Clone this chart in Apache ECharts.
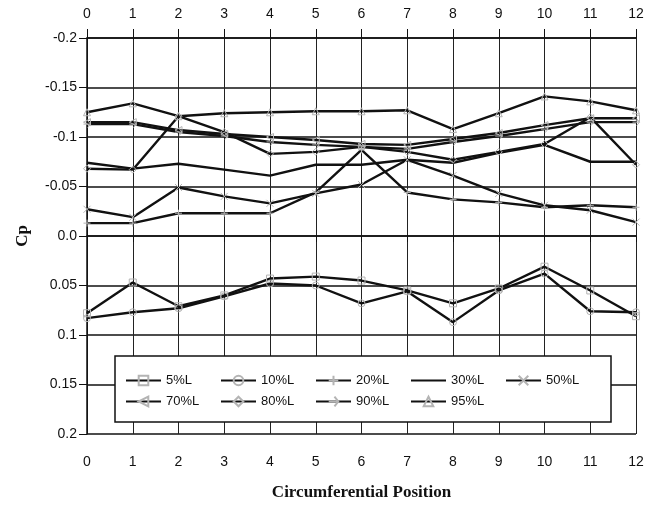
<!DOCTYPE html>
<html>
<head>
<meta charset="utf-8">
<script src="https://cdn.jsdelivr.net/npm/echarts@6/dist/echarts.min.js"></script>
<style>
  html, body { margin: 0; padding: 0; background: #fff; }
  #chart { width: 645px; height: 505px; }
</style>
</head>
<body>
<div id="chart"></div>
<script>
// Circumferential positions around the body
const positions = [0, 1, 2, 3, 4, 5, 6, 7, 8, 9, 10, 11, 12];
const yTicks = [-0.2, -0.15, -0.1, -0.05, 0, 0.05, 0.1, 0.15, 0.2];

// Pressure coefficient at each station (fraction of length L)
const cp5  = [0.078, 0.047, 0.071, 0.060, 0.043, 0.041, 0.045, 0.055, 0.068, 0.053, 0.031, 0.055, 0.081];
const cp10 = [0.083, 0.077, 0.073, 0.061, 0.048, 0.050, 0.068, 0.056, 0.087, 0.055, 0.038, 0.076, 0.077];
const cp20 = [-0.013, -0.013, -0.023, -0.023, -0.023, -0.044, -0.087, -0.044, -0.037, -0.034, -0.029, -0.031, -0.029];
const cp30 = [-0.074, -0.068, -0.073, -0.067, -0.061, -0.072, -0.072, -0.077, -0.074, -0.084, -0.092, -0.075, -0.075];
const cp50 = [-0.027, -0.019, -0.049, -0.040, -0.033, -0.043, -0.052, -0.077, -0.061, -0.043, -0.031, -0.026, -0.014];
const cp70 = [-0.115, -0.115, -0.107, -0.103, -0.100, -0.097, -0.093, -0.092, -0.098, -0.104, -0.112, -0.119, -0.119];
const cp80 = [-0.068, -0.067, -0.121, -0.105, -0.083, -0.085, -0.090, -0.085, -0.077, -0.085, -0.093, -0.120, -0.072];
const cp90 = [-0.113, -0.113, -0.105, -0.101, -0.095, -0.092, -0.090, -0.088, -0.095, -0.101, -0.108, -0.115, -0.115];
const cp95 = [-0.125, -0.134, -0.121, -0.124, -0.125, -0.126, -0.126, -0.127, -0.108, -0.124, -0.141, -0.136, -0.127];

const seriesNames = ['5%L', '10%L', '20%L', '30%L', '50%L', '70%L', '80%L', '90%L', '95%L'];
const seriesValues = [cp5, cp10, cp20, cp30, cp50, cp70, cp80, cp90, cp95];
// Open marker outlines; null means a plain line
const seriesSymbols = [
  'rect',
  'circle',
  'path://M5,0L5,10M0,5L10,5',
  null,
  'path://M0,0L10,10M10,0L0,10',
  'path://M0,5L10,0L10,10Z',
  'diamond',
  'path://M0,5L10,5M6,1L10,5L6,9',
  'triangle'
];

const sansFont = '"Liberation Sans", Arial, Helvetica, sans-serif';
const serifFont = '"Liberation Serif", "Times New Roman", serif';

const chart = echarts.init(document.getElementById('chart'), null, { renderer: 'canvas' });

const fmtTick = v => {
  const r = Math.round(v * 100) / 100;
  return r === 0 ? '0.0' : String(r);
};

const series = seriesNames.map((name, i) => {
  const plain = seriesSymbols[i] === null;
  return {
    name: name,
    type: 'line',
    data: positions.map((p, k) => [p, seriesValues[i][k]]),
    symbol: plain ? 'circle' : seriesSymbols[i],
    symbolSize: 7,
    showSymbol: !plain,
    lineStyle: { color: '#111', width: 2.4 },
    itemStyle: {
      color: 'rgba(0,0,0,0)',
      borderColor: plain ? 'rgba(0,0,0,0)' : '#b4b4b4',
      borderWidth: 1
    },
    emphasis: { disabled: true },
    animation: false,
    z: 3
  };
});

const option = {
  backgroundColor: '#fff',
  animation: false,
  grid: { left: 87, right: 9, top: 38, bottom: 71, containLabel: false, outerBoundsMode: 'none' },
  legend: {
    data: seriesNames,
    left: 115,
    top: 356,
    width: 480,
    orient: 'horizontal',
    itemWidth: 35,
    itemHeight: 12,
    itemGap: 6,
    padding: [17, 17, 13, 10],
    backgroundColor: '#fff',
    borderColor: '#111',
    borderWidth: 1.5,
    textStyle: { fontFamily: sansFont, fontSize: 13, color: '#111', width: 48, lineHeight: 15 },
    z: 10
  },
  xAxis: [
    {
      type: 'value',
      position: 'bottom',
      min: 0,
      max: 12,
      interval: 1,
      name: 'Circumferential Position',
      nameLocation: 'middle',
      nameGap: 50,
      nameTextStyle: { fontFamily: serifFont, fontWeight: 'bold', fontSize: 17, color: '#111' },
      axisLine: { show: true, lineStyle: { color: '#111', width: 1.5 } },
      axisTick: { show: true, inside: false, length: 6, lineStyle: { color: '#111', width: 1 } },
      axisLabel: { margin: 21, fontFamily: sansFont, fontSize: 14, color: '#111' },
      splitLine: { show: true, lineStyle: { color: '#222', width: 1 } }
    },
    {
      type: 'value',
      position: 'top',
      min: 0,
      max: 12,
      interval: 1,
      axisLine: { show: true, lineStyle: { color: '#111', width: 1.5 } },
      axisTick: { show: true, inside: false, length: 9, lineStyle: { color: '#111', width: 1 } },
      axisLabel: { margin: 17, fontFamily: sansFont, fontSize: 14, color: '#111' },
      splitLine: { show: false }
    }
  ],
  yAxis: {
    type: 'value',
    inverse: true,
    min: yTicks[0],
    max: yTicks[yTicks.length - 1],
    interval: 0.05,
    name: 'Cp',
    nameLocation: 'middle',
    nameGap: 56,
    nameRotate: 90,
    nameTextStyle: { fontFamily: serifFont, fontWeight: 'bold', fontSize: 17, color: '#111' },
    axisLine: { show: true, lineStyle: { color: '#111', width: 1.5 } },
    axisTick: { show: true, inside: false, length: 8, lineStyle: { color: '#111', width: 1 } },
    axisLabel: { margin: 10, fontFamily: sansFont, fontSize: 14, color: '#111', formatter: fmtTick },
    splitLine: { show: true, lineStyle: { color: '#111', width: 1.6 } }
  },
  series: series
};

chart.setOption(option);
</script>
</body>
</html>
